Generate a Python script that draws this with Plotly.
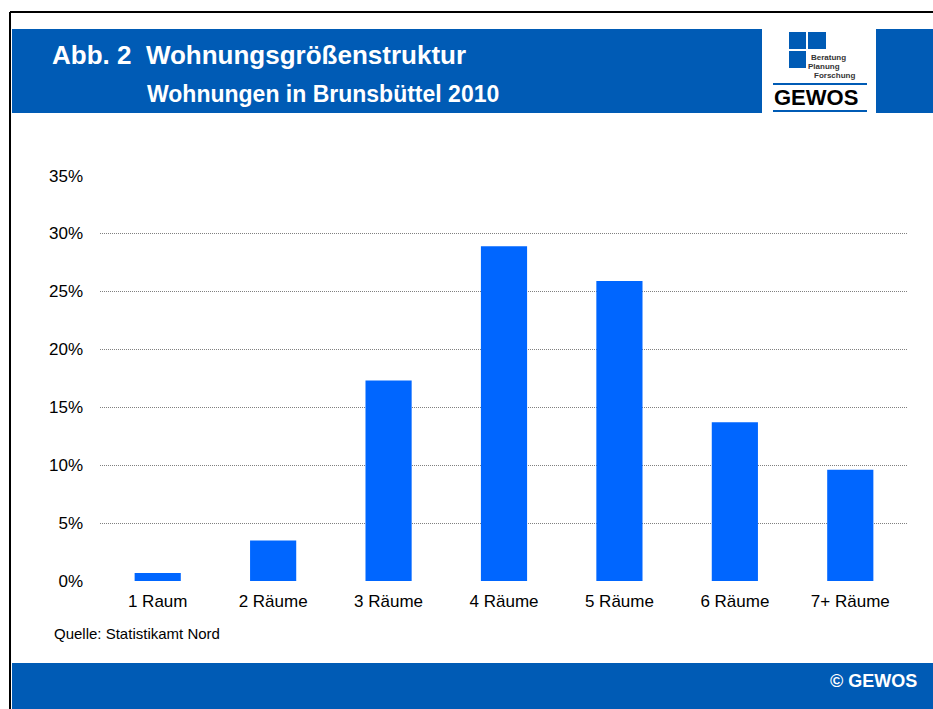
import plotly.graph_objects as go

categories = ["1 Raum", "2 Räume", "3 Räume", "4 Räume", "5 Räume", "6 Räume", "7+ Räume"]
shares = [0.7, 3.5, 17.3, 28.9, 25.9, 13.7, 9.6]
tick_vals = [0, 5, 10, 15, 20, 25, 30, 35]
tick_text = ["0%", "5%", "10%", "15%", "20%", "25%", "30%", "35%"]

BLUE = "#005BB5"
FONT = "Liberation Sans, Arial, sans-serif"

W, H = 933, 709
L, R, T, B = 100, 25, 175, 128
PW, PH = W - L - R, H - T - B

fig = go.Figure()
fig.add_trace(go.Bar(x=categories, y=shares, marker=dict(color="#0066FF", line=dict(width=0)),
                     hoverinfo="x+y"))


# pixel -> paper (paper is relative to the plot area)
def px_x(x):
    return (x - L) / PW


def px_y(y):
    return (H - B - y) / PH


shapes = []
# frame
shapes.append(dict(type="line", xref="paper", yref="paper", x0=px_x(10), x1=px_x(940), y0=px_y(12), y1=px_y(12),
                   line=dict(color="black", width=2)))
shapes.append(dict(type="line", xref="paper", yref="paper", x0=px_x(10), x1=px_x(10), y0=px_y(12), y1=px_y(712),
                   line=dict(color="black", width=2)))
# header bands
shapes.append(dict(type="rect", xref="paper", yref="paper", x0=px_x(12), x1=px_x(762), y0=px_y(113), y1=px_y(29),
                   fillcolor=BLUE, line=dict(width=0), layer="below"))
shapes.append(dict(type="rect", xref="paper", yref="paper", x0=px_x(876), x1=px_x(940), y0=px_y(113), y1=px_y(29),
                   fillcolor=BLUE, line=dict(width=0), layer="below"))
# footer band
shapes.append(dict(type="rect", xref="paper", yref="paper", x0=px_x(12), x1=px_x(940), y0=px_y(712), y1=px_y(663),
                   fillcolor=BLUE, line=dict(width=0), layer="below"))
# logo squares
for (a, b, c, d) in [(789, 806, 32, 49), (808, 826, 32, 49), (789, 806, 51, 68)]:
    shapes.append(dict(type="rect", xref="paper", yref="paper", x0=px_x(a), x1=px_x(b), y0=px_y(d), y1=px_y(c),
                       fillcolor=BLUE, line=dict(width=0)))
# logo lines
for yy in (84, 111):
    shapes.append(dict(type="line", xref="paper", yref="paper", x0=px_x(773), x1=px_x(867), y0=px_y(yy), y1=px_y(yy),
                       line=dict(color=BLUE, width=2)))

annotations = [
    dict(text="<b>Abb. 2  Wohnungsgrößenstruktur</b>", x=px_x(50), y=px_y(55), xanchor="left", yanchor="middle",
         font=dict(size=26, color="white", family=FONT)),
    dict(text="<b>Wohnungen in Brunsbüttel 2010</b>", x=px_x(145), y=px_y(94), xanchor="left", yanchor="middle",
         font=dict(size=23, color="white", family=FONT)),
    dict(text="<b>Beratung</b>", x=px_x(809), y=px_y(57), xanchor="left", yanchor="middle",
         font=dict(size=8, color="#333333", family=FONT)),
    dict(text="<b>Planung</b>", x=px_x(806), y=px_y(66), xanchor="left", yanchor="middle",
         font=dict(size=8, color="#333333", family=FONT)),
    dict(text="<b>Forschung</b>", x=px_x(812), y=px_y(76), xanchor="left", yanchor="middle",
         font=dict(size=8, color="#333333", family=FONT)),
    dict(text="<b>GEWOS</b>", x=px_x(772), y=px_y(98), xanchor="left", yanchor="middle",
         font=dict(size=22, color="black", family=FONT)),
    dict(text="Quelle: Statistikamt Nord", x=px_x(52), y=px_y(633), xanchor="left", yanchor="middle",
         font=dict(size=15, color="black", family=FONT)),
    dict(text="<b>© GEWOS</b>", x=px_x(919), y=px_y(681), xanchor="right", yanchor="middle",
         font=dict(size=18, color="white", family=FONT)),
]
for a in annotations:
    a.update(xref="paper", yref="paper", showarrow=False)

fig.update_layout(
    width=W, height=H,
    margin=dict(l=L, r=R, t=T, b=B),
    paper_bgcolor="white", plot_bgcolor="white",
    bargap=0.6,
    showlegend=False,
    font=dict(family=FONT, size=17, color="black"),
    xaxis=dict(showgrid=False, showline=False, ticks="", tickfont=dict(size=17), ticklabelstandoff=8),
    yaxis=dict(range=[0, 35.05], tickvals=tick_vals, ticktext=tick_text, showgrid=True,
               gridcolor="#808080", griddash="1px,1px", gridwidth=1, zeroline=False,
               ticks="", tickfont=dict(size=17), ticklabelstandoff=16),
    shapes=shapes,
    annotations=annotations,
)

fig.write_html("out.html", config={"displayModeBar": False},
               post_script="document.body.style.margin='0';")
